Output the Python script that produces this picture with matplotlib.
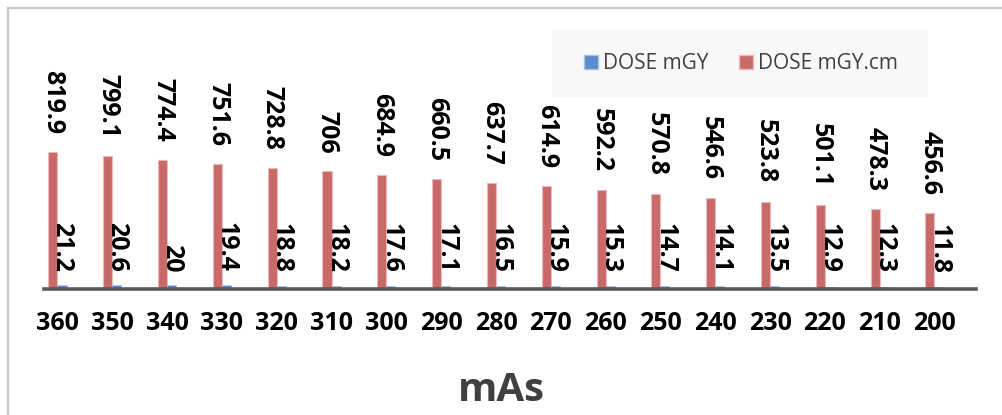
import matplotlib
matplotlib.use("Agg")
import matplotlib.pyplot as plt
from matplotlib.patches import Patch, Rectangle
from matplotlib.lines import Line2D
import numpy as np

plt.rcParams['font.family'] = ['Open Sans', 'DejaVu Sans']

mas = ['360', '350', '340', '330', '320', '310', '300', '290', '280',
       '270', '260', '250', '240', '230', '220', '210', '200']
dose_mgy = [21.2, 20.6, 20, 19.4, 18.8, 18.2, 17.6, 17.1, 16.5,
            15.9, 15.3, 14.7, 14.1, 13.5, 12.9, 12.3, 11.8]
dose_mgy_cm = [819.9, 799.1, 774.4, 751.6, 728.8, 706, 684.9, 660.5, 637.7,
               614.9, 592.2, 570.8, 546.6, 523.8, 501.1, 478.3, 456.6]

blue = '#5B8BCB'
red = '#C96A69'

fig = plt.figure(figsize=(10.02, 4.15), dpi=100)
ax = fig.add_axes([44 / 1002, (415 - 288.7) / 415, 932 / 1002, 166.3 / 415])

x = np.arange(len(mas))
w = 0.165
red_bars = ax.bar(x - w / 2, dose_mgy_cm, w, color=red, edgecolor='#EBB9B8', linewidth=0.8)
blue_bars = ax.bar(x + w / 2, dose_mgy, w, color=blue, edgecolor='#A9C3E6', linewidth=0.6)

label_font = dict(fontsize=18, fontweight='bold', color='black', rotation=270,
                  ha='center', va='bottom')
for xi, v in zip(x, dose_mgy_cm):
    ax.annotate(f'{v:g}', (xi - w / 2, v), xytext=(0, 13), textcoords='offset points',
                annotation_clip=False, **label_font)
for xi, v in zip(x, dose_mgy):
    ax.annotate(f'{v:g}', (xi + w / 2, v), xytext=(0, 9.5), textcoords='offset points',
                annotation_clip=False, **label_font)

ax.set_xlim(-0.246, 16.758)
ax.set_ylim(0, 1000)
ax.set_xticks(x)
ax.set_xticklabels(mas, fontsize=18, fontweight='bold', color='black')
ax.tick_params(axis='x', length=0, pad=16)
ax.set_yticks([])
for side in ('top', 'right', 'left'):
    ax.spines[side].set_visible(False)
ax.spines['bottom'].set_color('#595959')
ax.spines['bottom'].set_linewidth(2.6)
ax.patch.set_alpha(0)

# axis title
fig.text(0.5, (415 - 401) / 415, 'mAs', fontsize=29, fontweight='bold',
         color='#404040', ha='center', va='baseline')

# legend panel
fig.patches.append(Rectangle((552 / 1002, (415 - 97) / 415), 376 / 1002, 67 / 415,
                             transform=fig.transFigure, facecolor='#F8F8F8',
                             edgecolor='none', zorder=0))
handles = [Patch(facecolor=blue, edgecolor='#A9C3E6', label='DOSE mGY'),
           Patch(facecolor=red, edgecolor='#EBB9B8', label='DOSE mGY.cm')]
fig.legend(handles=handles, loc='center', bbox_to_anchor=(741 / 1002, (415 - 63.5) / 415),
           ncol=2, frameon=False, fontsize=15, labelcolor='#404040',
           handlelength=0.68, handleheight=0.68, handletextpad=0.25,
           columnspacing=1.45, borderpad=0)

# chart frame
fig.add_artist(Line2D([8 / 1002, 1.0], [1 - 8 / 415, 1 - 8 / 415], transform=fig.transFigure,
                      color='#C8C8C8', linewidth=1.6))
fig.add_artist(Line2D([8 / 1002, 8 / 1002], [0, 1 - 8 / 415], transform=fig.transFigure,
                      color='#C8C8C8', linewidth=1.6))

fig.savefig('out.png', dpi=100)
